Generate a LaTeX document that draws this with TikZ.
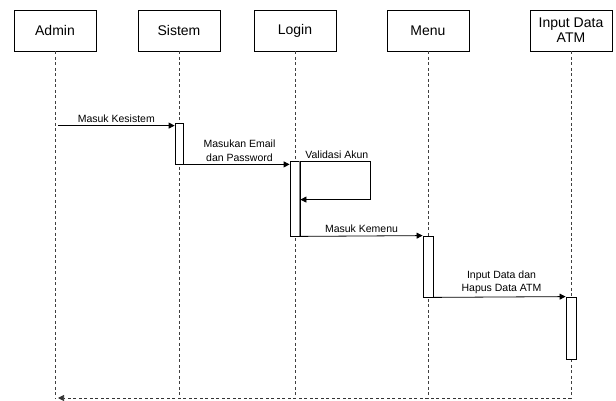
\documentclass[tikz,border=0pt]{standalone}
\usepackage{fontspec}
\setmainfont{Liberation Sans}
\usetikzlibrary{positioning,arrows.meta}

\begin{document}
\begin{tikzpicture}[x=1pt,y=-1pt,node distance=124pt,on grid,
    obj/.style={draw,line width=0.8pt,minimum width=82pt,minimum height=41pt,
      font=\fontsize{14}{15}\selectfont,align=center,inner sep=1pt},
    life/.style={draw=black!75,line width=0.7pt,dash pattern=on 3pt off 2.5pt},
    act/.style={draw,fill=white,line width=0.8pt,minimum width=8pt,inner sep=0pt},
    msg/.style={line width=0.8pt,-{Triangle[length=6pt,width=6pt]}},
    lbl/.style={font=\fontsize{10.5}{13.5}\selectfont,align=center,inner sep=2.5pt}]
   \useasboundingbox (0,0) rectangle (616,401);
   \node[obj] (admin) at (55,30.5) {Admin};
   \node[obj] (sistem) [right=124pt of admin] {Sistem};
   \node[obj] (login) [right=116pt of sistem] {Login};
   \node[obj] (menu) [right=133pt of login] {Menu};
   \node[obj] (atm) [right=143pt of menu] {Input Data\\ATM};
   % lifelines
   \foreach \o in {admin,sistem,login,menu,atm}
     \draw[life] (\o.south) -- (\o |- 0,398);
   % activation bars
   \node[act,minimum height=41pt] (actSistem) at (179,143.5) {};
   \node[act,minimum height=75pt,minimum width=10pt] (actLogin) at (295,198.5) {};
   \draw[black!50,line width=0.8pt] ([xshift=-1.5pt]actLogin.north east) -- ([xshift=-1.5pt]actLogin.south east);
   \node[act,minimum height=61pt,minimum width=10pt] (actMenu) at (428,266.5) {};
   \node[act,minimum height=62pt,minimum width=10pt] (actAtm) at (571,328) {};
   % messages
   \coordinate (m1) at ([yshift=-3pt]actSistem.north west);
   \draw[msg] ([xshift=3pt]admin |- m1) -- node[lbl,above] {Masuk Kesistem} (m1);
   \draw[msg] (actSistem.south east) -- node[lbl,above,xshift=3pt] {Masukan Email\\dan Password} (actLogin.west |- actSistem.south east);
   \coordinate (selfIn) at ([yshift=-39pt]actLogin.north east);
   \draw[msg] ([yshift=-1pt]actLogin.north east) -- ++(70,0) node[lbl,above,pos=0.52] {Validasi Akun} -- ++(0,38) -- (selfIn);
   \draw[msg] (actLogin.south east) -- node[lbl,above] {Masuk Kemenu} (actMenu.north west);
   \draw[msg] (actMenu.south east) -- node[lbl,above,xshift=2pt] {Input Data dan\\Hapus Data ATM} (actAtm.north west);
   \draw[life,draw=black!80,-{Triangle[length=6pt,width=6pt]}] (atm |- 0,398) -- ([xshift=3pt]admin |- 0,398);
\end{tikzpicture}
\end{document}
